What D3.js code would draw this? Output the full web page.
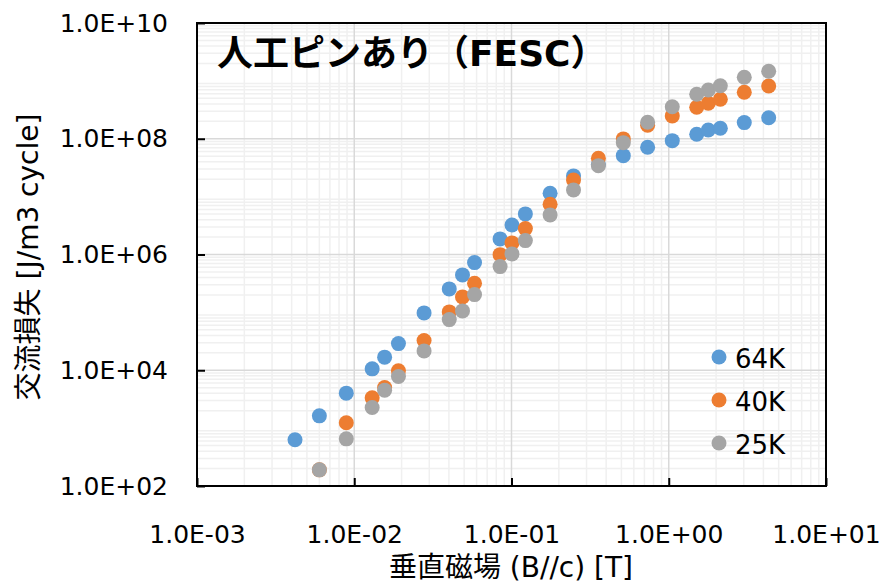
<!DOCTYPE html>
<html>
<head>
<meta charset="utf-8">
<script src="https://cdn.jsdelivr.net/npm/d3@7"></script>
<style>
  html, body { margin: 0; padding: 0; background: #fff; }
  svg { display: block; }
  text { font-family: "DejaVu Sans", "Noto Sans CJK JP", sans-serif; fill: #000; }
</style>
</head>
<body>
<svg id="chart" width="887" height="583"></svg>
<script>
// Perpendicular field (T) at each measured point
const fieldT = [0.0042, 0.0060, 0.0089, 0.0130, 0.0156, 0.0191, 0.0278, 0.0402, 0.0488, 0.0582,
                0.0846, 0.1007, 0.1225, 0.176, 0.248, 0.357, 0.514, 0.734, 1.053, 1.506,
                1.784, 2.128, 3.022, 4.32];

// AC loss (J/m3 cycle) per temperature
const loss64K = [628, 1630, 4020, 10570, 16830, 28900, 97900, 254700, 444500, 724000,
                 1.86e6, 3.24e6, 5.03e6, 1.145e7, 2.28e7, 3.63e7, 5.11e7, 7.13e7, 9.27e7, 1.196e8,
                 1.42e8, 1.52e8, 1.90e8, 2.31e8];
const loss40K = [null, 190, 1236, 3336, 5025, 9770, 32600, 102000, 185000, 319000,
                 995000, 1.585e6, 2.80e6, 7.39e6, 1.94e7, 4.61e7, 9.93e7, 1.71e8, 2.48e8, 3.50e8,
                 4.10e8, 4.81e8, 6.36e8, 8.16e8];
const loss25K = [null, 190, 653, 2270, 4530, 7780, 21600, 75100, 106000, 203000,
                 618000, 1.024e6, 1.74e6, 4.83e6, 1.306e7, 3.43e7, 8.57e7, 1.93e8, 3.58e8, 5.87e8,
                 6.96e8, 8.26e8, 1.153e9, 1.465e9];

const seriesNames = ["64K", "40K", "25K"];
const seriesColors = ["#5B9BD5", "#ED7D31", "#A5A5A5"];

const xTicks = [1e-3, 1e-2, 1e-1, 1e0, 1e1];
const yTicks = [1e2, 1e4, 1e6, 1e8, 1e10];

const titleText = "人工ピンあり（FESC）";
const xTitle = "垂直磁場 (B//c) [T]";
const yTitle = "交流損失 [J/m3 cycle]";

// Excel-like scientific tick label, e.g. 1.0E+08
function sci(v) {
  const e = Math.round(Math.log10(v));
  const s = e < 0 ? "-" : "+";
  return "1.0E" + s + String(Math.abs(e)).padStart(2, "0");
}

const svg = d3.select("#chart");
const plot = { left: 197, right: 826, top: 23, bottom: 486 };

const x = d3.scaleLog().domain([1e-3, 1e1]).range([plot.left, plot.right]);
const y = d3.scaleLog().domain([1e2, 1e10]).range([plot.bottom, plot.top]);

// minor grid (2..9 in each decade)
const minorX = [], minorY = [];
for (let e = -3; e < 1; e++) for (let m = 2; m <= 9; m++) minorX.push(m * Math.pow(10, e));
for (let e = 2; e < 10; e++) for (let m = 2; m <= 9; m++) minorY.push(m * Math.pow(10, e));

const grid = svg.append("g");
grid.selectAll(".mx").data(minorX).join("line")
  .attr("x1", d => x(d)).attr("x2", d => x(d))
  .attr("y1", plot.top).attr("y2", plot.bottom)
  .attr("stroke", "#f0f0f0").attr("stroke-width", 1.5);
grid.selectAll(".my").data(minorY).join("line")
  .attr("y1", d => y(d)).attr("y2", d => y(d))
  .attr("x1", plot.left).attr("x2", plot.right)
  .attr("stroke", "#f0f0f0").attr("stroke-width", 1.5);
grid.selectAll(".Mx").data(xTicks).join("line")
  .attr("x1", d => x(d)).attr("x2", d => x(d))
  .attr("y1", plot.top).attr("y2", plot.bottom)
  .attr("stroke", "#d9d9d9").attr("stroke-width", 1.5);
grid.selectAll(".My").data(yTicks).join("line")
  .attr("y1", d => y(d)).attr("y2", d => y(d))
  .attr("x1", plot.left).attr("x2", plot.right)
  .attr("stroke", "#d9d9d9").attr("stroke-width", 1.5);

// title inside plot
svg.append("text")
  .attr("x", 217).attr("y", 66)
  .attr("font-size", 36).attr("font-weight", "bold")
  .text(titleText);

// data points
const allSeries = [loss64K, loss40K, loss25K];
allSeries.forEach((vals, i) => {
  const pts = fieldT.map((f, j) => ({ f, v: vals[j] })).filter(d => d.v != null);
  svg.append("g").selectAll("circle").data(pts).join("circle")
    .attr("cx", d => x(d.f)).attr("cy", d => y(d.v))
    .attr("r", 7.5).attr("fill", seriesColors[i]);
});

// axes
const xAxis = d3.axisBottom(x).tickValues(xTicks).tickFormat(sci)
  .tickSizeInner(-8).tickSizeOuter(0).tickPadding(39);
const yAxis = d3.axisLeft(y).tickValues(yTicks).tickFormat(sci)
  .tickSizeInner(-8).tickSizeOuter(0).tickPadding(29);

const gx = svg.append("g").attr("transform", `translate(0,${plot.bottom})`).call(xAxis);
const gy = svg.append("g").attr("transform", `translate(${plot.left},0)`).call(yAxis);
[gx, gy].forEach(g => {
  g.select(".domain").remove();
  g.selectAll(".tick line").attr("stroke", "#000").attr("stroke-width", 2);
  g.selectAll(".tick text").attr("font-size", 25)
    .attr("font-family", "'DejaVu Sans', sans-serif").attr("fill", "#000");
});

// plot frame
svg.append("rect")
  .attr("x", plot.left).attr("y", plot.top)
  .attr("width", plot.right - plot.left).attr("height", plot.bottom - plot.top)
  .attr("fill", "none").attr("stroke", "#000").attr("stroke-width", 2);

// axis titles
svg.append("text")
  .attr("x", 511).attr("y", 577)
  .attr("text-anchor", "middle").attr("font-size", 28)
  .text(xTitle);
svg.append("text")
  .attr("transform", `translate(38,257) rotate(-90)`)
  .attr("text-anchor", "middle").attr("font-size", 28)
  .text(yTitle);

// legend
const legend = svg.append("g");
seriesNames.forEach((name, i) => {
  const cy = 357 + i * 43;
  legend.append("circle").attr("cx", 719).attr("cy", cy).attr("r", 7.5).attr("fill", seriesColors[i]);
  legend.append("text").attr("x", 735).attr("y", cy + 11).attr("font-size", 26).text(name);
});
</script>
</body>
</html>
